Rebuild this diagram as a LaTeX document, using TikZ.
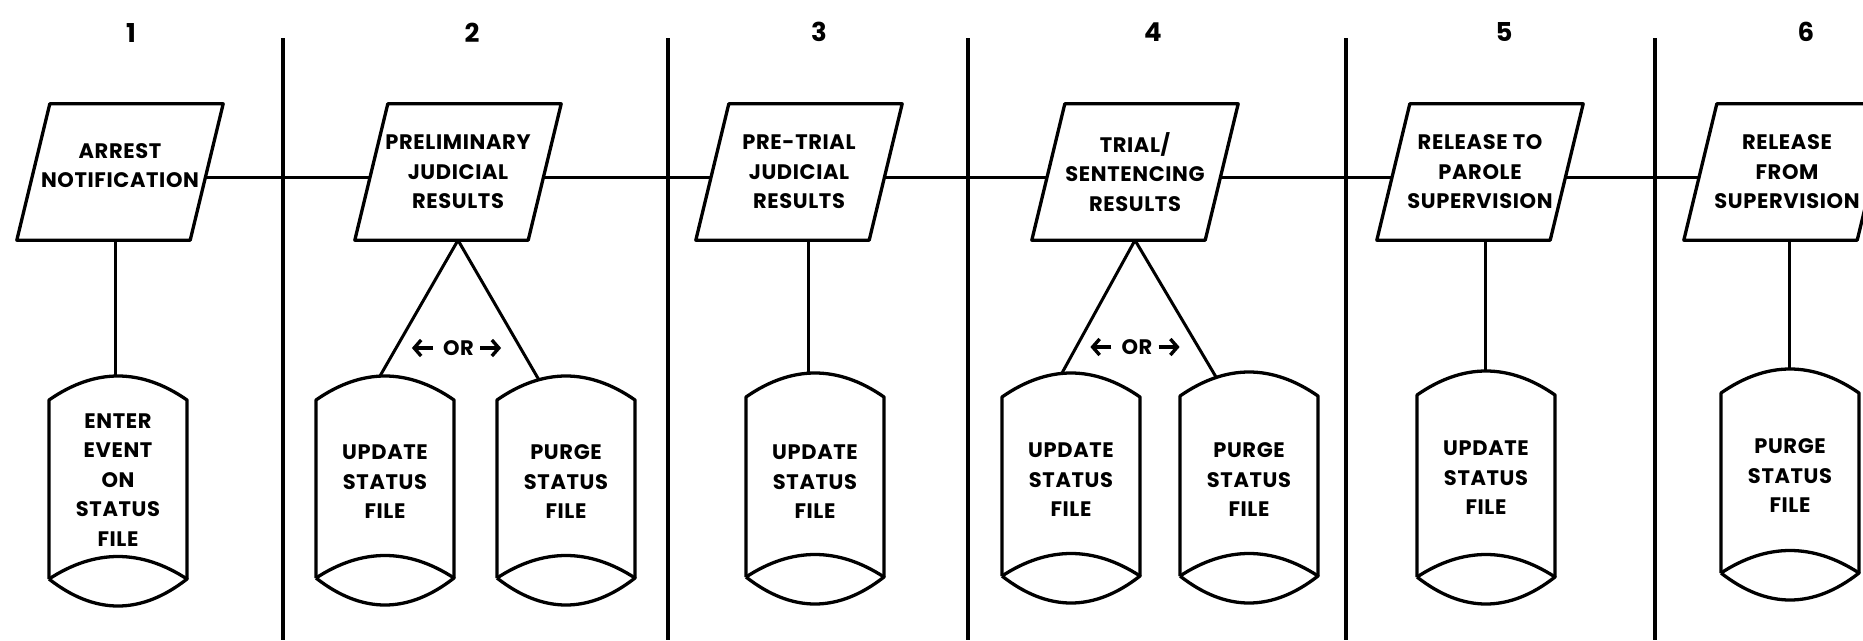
\documentclass[tikz,border=0pt]{standalone}
\usepackage{fontspec}
\setmainfont{Poppins}[LetterSpace=3]
\usetikzlibrary{calc,arrows.meta}
\newcommand\lblfont{\fontsize{21}{29.5}\selectfont\bfseries}
\newcommand\numfont{\fontsize{26}{30}\selectfont\bfseries}
% parallelogram outline around a named node
\newcommand\paraout[1]{%
  \draw[shp] ([xshift=-16.5pt]#1.south west) -- ([xshift=16.5pt]#1.north west)
    -- ([xshift=16.5pt]#1.north east) -- ([xshift=-16.5pt]#1.south east) -- cycle;}
% storage (drum) outline around a named text node: name, top offset, bottom offset
\newcommand\cylout[3]{%
  \draw[shp] ($(#1.center)+(-69,#3)$) -- ($(#1.center)+(-69,#2)$)
    .. controls +(46,-32) and +(-46,-32) .. ($(#1.center)+(69,#2)$)
    -- ($(#1.center)+(69,#3)$);
  \draw[shp] ($(#1.center)+(-69,#3)$)
    .. controls +(46,-30) and +(-46,-30) .. ($(#1.center)+(69,#3)$)
    .. controls +(-46,36) and +(46,36) .. ($(#1.center)+(-69,#3)$);}
\begin{document}
\begin{tikzpicture}[x=1pt,y=-1pt,
  shp/.style={line width=3.3pt,line join=round},
  conn/.style={line width=3pt},
  divider/.style={line width=3.2pt},
  pbox/.style={inner sep=0pt,minimum width=173pt,minimum height=136pt,align=center,font=\lblfont},
  cbox/.style={inner sep=0pt,align=center,font=\lblfont},
  numlbl/.style={inner sep=0pt,font=\numfont},
  orlbl/.style={inner sep=0pt,font=\lblfont},
  orarrow/.style={line width=3.4pt,-{Straight Barb[length=7pt,width=16pt,line width=3.4pt]}}]
\useasboundingbox (0,0) rectangle (1863,640);
\fill[white] (0,0) rectangle (1863,640);
\clip (0,0) rectangle (1863,640);

% column numbers
\node[numlbl] (n1) at (131,33) {1};
\node[numlbl] (n2) at (472,33) {2};
\node[numlbl] (n3) at (819,32) {3};
\node[numlbl] (n4) at (1153,32) {4};
\node[numlbl] (n5) at (1504,32) {5};
\node[numlbl] (n6) at (1806,32) {6};

% column dividers
\draw[divider] (283,38) -- (283,640);
\draw[divider] (668,38) -- (668,640);
\draw[divider] (968,38) -- (968,640);
\draw[divider] (1346,38) -- (1346,640);
\draw[divider] (1655,38) -- (1655,640);

% input parallelograms
\node[pbox] (p1) at (120,172) {ARREST\\NOTIFICATION\rule[-13pt]{0pt}{13pt}};
\node[pbox] (p2) at (458,172) {PRELIMINARY\\JUDICIAL\\RESULTS};
\node[pbox] (p3) at (799,172) {PRE-TRIAL\\JUDICIAL\\RESULTS};
\node[pbox] (p4) at (1135,172) {TRIAL/\\SENTENCING\\RESULTS};
\node[pbox] (p5) at (1480,172) {RELEASE TO\\PAROLE\\SUPERVISION};
\node[pbox] (p6) at (1787,172) {RELEASE\\FROM\\SUPERVISION};
\paraout{p1}\paraout{p2}\paraout{p3}\paraout{p4}\paraout{p5}\paraout{p6}

% storage files
\node[cbox] (s1) at (118,480) {ENTER\\EVENT\\ON\\STATUS\\FILE};
\node[cbox] (s2a) at (385,482) {UPDATE\\STATUS\\FILE};
\node[cbox] (s2b) at (566,482) {PURGE\\STATUS\\FILE};
\node[cbox] (s3) at (815,482) {UPDATE\\STATUS\\FILE};
\node[cbox] (s4a) at (1071,480) {UPDATE\\STATUS\\FILE};
\node[cbox] (s4b) at (1249,480) {PURGE\\STATUS\\FILE};
\node[cbox] (s5) at (1486,478) {UPDATE\\STATUS\\FILE};
\node[cbox] (s6) at (1790,476) {PURGE\\STATUS\\FILE};
\cylout{s1}{-80}{99}
\cylout{s2a}{-82}{96}
\cylout{s2b}{-82}{96}
\cylout{s3}{-85}{95}
\cylout{s4a}{-83}{96}
\cylout{s4b}{-84}{96}
\cylout{s5}{-83}{99}
\cylout{s6}{-83}{97}

% connection points on the drum tops
\coordinate (s1t) at ($(s1.center)+(-3,-104)$);
\coordinate (s2at) at ($(s2a.center)+(-5,-106)$);
\coordinate (s2bt) at ($(s2b.center)+(-27,-102)$);
\coordinate (s3t) at ($(s3.center)+(-7,-109)$);
\coordinate (s4at) at ($(s4a.center)+(-9,-107)$);
\coordinate (s4bt) at ($(s4b.center)+(-33,-103)$);
\coordinate (s5t) at ($(s5.center)+(-1,-107)$);
\coordinate (s6t) at ($(s6.center)+(-1,-107)$);

% main flow line (slightly below the box centres)
\draw[conn] ([shift={(-1pt,-5pt)}]p1.east) -- ([shift={(-1pt,-5pt)}]p2.west);
\draw[conn] ([shift={(-1pt,-5pt)}]p2.east) -- ([shift={(-1pt,-5pt)}]p3.west);
\draw[conn] ([shift={(-1pt,-5pt)}]p3.east) -- ([shift={(-1pt,-5pt)}]p4.west);
\draw[conn] ([shift={(-1pt,-5pt)}]p4.east) -- ([shift={(-1pt,-5pt)}]p5.west);
\draw[conn] ([shift={(-1pt,-5pt)}]p5.east) -- ([shift={(-1pt,-5pt)}]p6.west);

% connectors to files
\draw[conn] (p1.south -| s1t) -- (s1t);
\draw[conn] (p2.south) -- (s2at);
\draw[conn] (p2.south) -- (s2bt);
\draw[conn] (p3.south -| s3t) -- (s3t);
\draw[conn] (p4.south) -- (s4at);
\draw[conn] (p4.south) -- (s4bt);
\draw[conn] (p5.south -| s5t) -- (s5t);
\draw[conn] (p6.south -| s6t) -- (s6t);

% OR labels
\node[orlbl] (or2) at (458.5,348) {OR};
\draw[orarrow] ([xshift=-10pt]or2.west) -- ++(-21,0);
\draw[orarrow] ([xshift=6pt]or2.east) -- ++(21,0);
\node[orlbl] (or4) at (1137,347) {OR};
\draw[orarrow] ([xshift=-10pt]or4.west) -- ++(-21,0);
\draw[orarrow] ([xshift=6pt]or4.east) -- ++(21,0);
\end{tikzpicture}
\end{document}
